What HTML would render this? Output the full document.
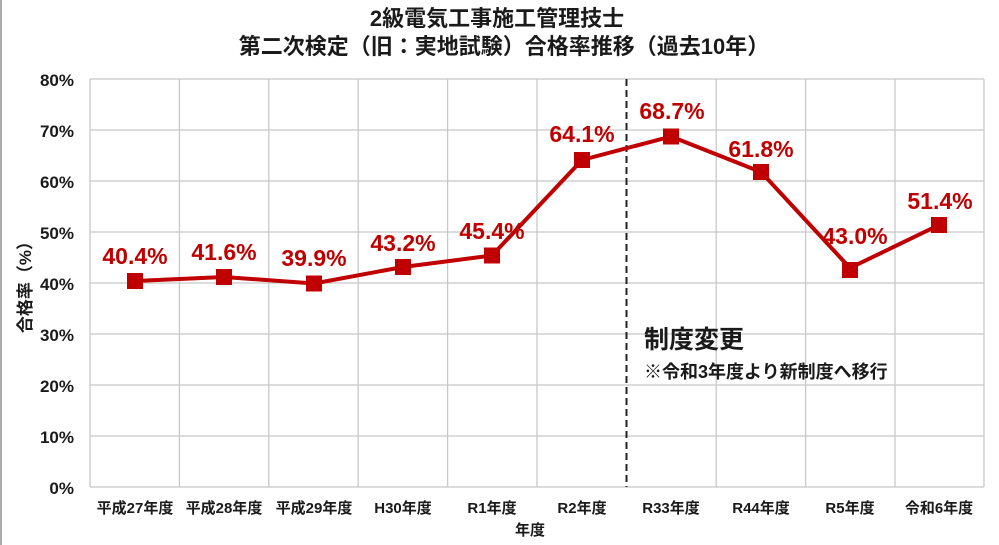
<!DOCTYPE html>
<html><head><meta charset="utf-8"><style>
html,body{margin:0;padding:0;background:#fff;}
svg{display:block;font-family:"Liberation Sans","Noto Sans CJK JP",sans-serif;}
</style></head><body>
<svg width="999" height="545" viewBox="0 0 999 545" xmlns="http://www.w3.org/2000/svg">
<rect x="0" y="0" width="999" height="545" fill="#fff"/>
<line x1="1" y1="0" x2="1" y2="545" stroke="#aaa" stroke-width="2"/>
<g font-weight="bold" font-size="22" fill="#1a1a1a" text-anchor="middle">
<text x="497" y="26">2級電気工事施工管理技士</text>
<text x="504" y="54">第二次検定（旧：実地試験）合格率推移（過去10年）</text>
</g>
<g stroke="#c8c8c8" stroke-width="1.3">
<line x1="90" y1="79" x2="984" y2="79"/>
<line x1="90" y1="130" x2="984" y2="130"/>
<line x1="90" y1="181" x2="984" y2="181"/>
<line x1="90" y1="232" x2="984" y2="232"/>
<line x1="90" y1="283" x2="984" y2="283"/>
<line x1="90" y1="334" x2="984" y2="334"/>
<line x1="90" y1="385" x2="984" y2="385"/>
<line x1="90" y1="436" x2="984" y2="436"/>
<line x1="90" y1="487" x2="984" y2="487"/>
<line x1="90" y1="79" x2="90" y2="487"/>
<line x1="179.4" y1="79" x2="179.4" y2="487"/>
<line x1="268.8" y1="79" x2="268.8" y2="487"/>
<line x1="358.2" y1="79" x2="358.2" y2="487"/>
<line x1="447.6" y1="79" x2="447.6" y2="487"/>
<line x1="537" y1="79" x2="537" y2="487"/>
<line x1="716.2" y1="79" x2="716.2" y2="487"/>
<line x1="805.6" y1="79" x2="805.6" y2="487"/>
<line x1="895" y1="79" x2="895" y2="487"/>
<line x1="984" y1="79" x2="984" y2="487"/>
</g>
<line x1="626.5" y1="79" x2="626.5" y2="487" stroke="#222" stroke-width="2" stroke-dasharray="7,4"/>
<g font-weight="bold" font-size="17" fill="#1a1a1a" text-anchor="end">
<text x="74" y="86">80%</text><text x="74" y="137">70%</text><text x="74" y="188">60%</text>
<text x="74" y="239">50%</text><text x="74" y="290">40%</text><text x="74" y="341">30%</text>
<text x="74" y="392">20%</text><text x="74" y="443">10%</text><text x="74" y="494">0%</text>
</g>
<text transform="translate(31,283) rotate(-90)" text-anchor="middle" font-weight="bold" font-size="17" fill="#1a1a1a">合格率（%）</text>
<g font-weight="bold" font-size="15" fill="#1a1a1a" text-anchor="middle">
<text x="135" y="513">平成27年度</text><text x="224" y="513">平成28年度</text><text x="314" y="513">平成29年度</text>
<text x="403" y="513">H30年度</text><text x="492" y="513">R1年度</text><text x="582" y="513">R2年度</text>
<text x="671" y="513">R33年度</text><text x="761" y="513">R44年度</text><text x="850" y="513">R5年度</text>
<text x="939" y="513">令和6年度</text>
<text x="530" y="535">年度</text>
</g>
<polyline fill="none" stroke="#c00000" stroke-width="4" stroke-linejoin="round" points="135,281 224,277 314,283.5 403,267 492,255.5 582,160 671,136.5 761,172 850,268 939,225"/>
<g fill="#c00000">
<rect x="127" y="273" width="16" height="16"/><rect x="216" y="269" width="16" height="16"/>
<rect x="306" y="275.5" width="16" height="16"/><rect x="395" y="259" width="16" height="16"/>
<rect x="484" y="247.5" width="16" height="16"/><rect x="574" y="152" width="16" height="16"/>
<rect x="663" y="128.5" width="16" height="16"/><rect x="753" y="164" width="16" height="16"/>
<rect x="842" y="262" width="16" height="16"/><rect x="931" y="217" width="16" height="16"/>
</g>
<g font-weight="bold" font-size="23" fill="#c00000" text-anchor="middle">
<text x="135" y="264">40.4%</text><text x="224" y="260">41.6%</text><text x="314" y="266">39.9%</text>
<text x="403" y="251">43.2%</text><text x="492" y="239">45.4%</text><text x="582" y="142">64.1%</text>
<text x="672" y="119">68.7%</text><text x="761" y="157">61.8%</text><text x="855" y="244">43.0%</text>
<text x="940" y="209">51.4%</text>
</g>
<text x="644" y="348" font-weight="bold" font-size="25" fill="#1a1a1a">制度変更</text>
<text x="644" y="378" font-weight="bold" font-size="18" fill="#1a1a1a">※令和3年度より新制度へ移行</text>
</svg>
</body></html>
